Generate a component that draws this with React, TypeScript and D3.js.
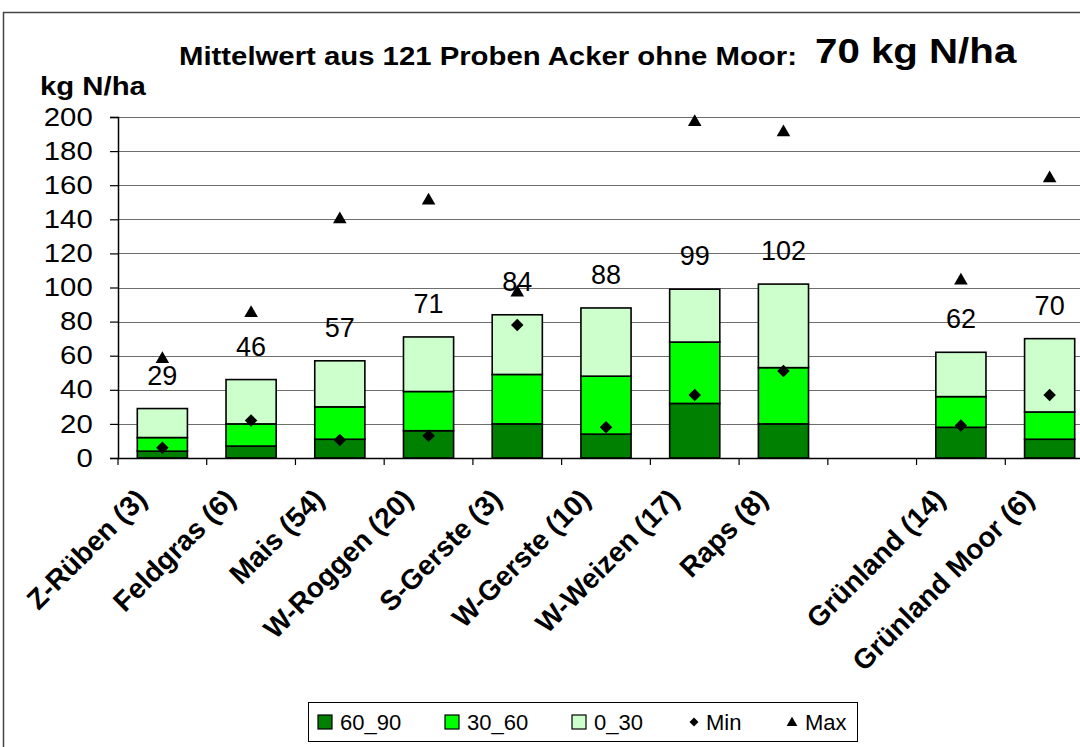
import React, { useEffect, useRef } from 'react';
import * as d3 from 'd3';

// data (kg N/ha)
const categories = ["Z-Rüben (3)", "Feldgras (6)", "Mais (54)", "W-Roggen (20)", "S-Gerste (3)", "W-Gerste (10)", "W-Weizen (17)", "Raps (8)", "", "Grünland (14)", "Grünland Moor (6)"];
const layer60_90 = [4, 7, 11, 16, 20, 14, 32, 20, null, 18, 11];
const layer30_60 = [8, 13, 19, 23, 29, 34, 36, 33, null, 18, 16];
const layer0_30 = [17, 26, 27, 32, 35, 40, 31, 49, null, 26, 43];
const totals = [29, 46, 57, 71, 84, 88, 99, 102, null, 62, 70];
const minValues = [6, 22, 10.5, 13, 78, 18, 37, 51, null, 19, 37];
const maxValues = [58, 85, 140, 151, 97, null, 197, 191, null, 104, 164];
const yTicks = [0, 20, 40, 60, 80, 100, 120, 140, 160, 180, 200];
const seriesNames = ["60_90", "30_60", "0_30"];
const seriesColors = ["#008000", "#00ff00", "#ccffcc"];

const W = 1080, H = 747;
const FONT = "'Liberation Sans', Arial, sans-serif";
// the original picture is a bit wider than tall, text looks stretched
const SX = 1.15;

export default function App() {
  const svgRef = useRef<SVGSVGElement>(null);

  useEffect(() => {
    document.body.style.margin = "0";
    const svg = d3.select(svgRef.current);
    svg.selectAll("*").remove();

    const left = 118, right = 1094, top = 117, bottom = 458;

    const x = d3.scaleBand<number>()
      .domain(categories.map((_, i) => i))
      .range([left, right])
      .padding(0);
    const y = d3.scaleLinear().domain([0, 200]).range([bottom, top]);
    const barW = x.bandwidth() * 0.565;

    // outer chart frame (cut off on the right / bottom like the reference)
    svg.append("rect")
      .attr("x", 3.5).attr("y", 12.5)
      .attr("width", W + 20).attr("height", H + 20)
      .attr("fill", "white").attr("stroke", "#444").attr("stroke-width", 1.5);

    // grid
    svg.append("g")
      .selectAll("line")
      .data(yTicks.slice(1))
      .join("line")
      .attr("x1", left).attr("x2", right)
      .attr("y1", d => Math.round(y(d)) + 0.5).attr("y2", d => Math.round(y(d)) + 0.5)
      .attr("stroke", "#6e6e6e").attr("stroke-width", 1.2);

    // stacked bars
    const rows = categories.map((c, i) => ({
      i, a: layer60_90[i] ?? 0, b: layer30_60[i] ?? 0, c: layer0_30[i] ?? 0,
    })).filter(r => totals[r.i] != null);
    const stack = d3.stack<any>().keys(["a", "b", "c"]);
    const stacked = stack(rows);

    svg.append("g")
      .selectAll("g")
      .data(stacked)
      .join("g")
      .attr("fill", (_, k) => seriesColors[k])
      .selectAll("rect")
      .data(d => d)
      .join("rect")
      .attr("x", d => x(d.data.i)! + (x.bandwidth() - barW) / 2)
      .attr("y", d => y(d[1]))
      .attr("width", barW)
      .attr("height", d => y(d[0]) - y(d[1]))
      .attr("stroke", "black")
      .attr("stroke-width", 1.6);

    // axes
    const yAxis = d3.axisLeft(y).tickValues(yTicks).tickSize(8).tickPadding(14).tickFormat(d3.format("d"));
    const yg = svg.append("g").attr("transform", `translate(${left},0)`).call(yAxis);
    yg.select(".domain").attr("stroke", "black").attr("stroke-width", 1.5);
    yg.selectAll(".tick line").attr("stroke", "black").attr("stroke-width", 1.2);
    yg.selectAll("text")
      .attr("font-family", FONT).attr("font-size", 25.5).attr("fill", "black")
      .attr("transform", `scale(${SX},1)`);

    svg.append("line")
      .attr("x1", left).attr("x2", right)
      .attr("y1", bottom + 0.5).attr("y2", bottom + 0.5)
      .attr("stroke", "black").attr("stroke-width", 1.5);
    svg.append("g")
      .selectAll("line")
      .data(d3.range(categories.length + 1))
      .join("line")
      .attr("x1", i => left + i * x.step()).attr("x2", i => left + i * x.step())
      .attr("y1", bottom).attr("y2", bottom + 7)
      .attr("stroke", "black").attr("stroke-width", 1.2);

    // category labels
    svg.append("g")
      .selectAll("text")
      .data(categories)
      .join("text")
      .attr("transform", (_, i) => `translate(${x(i)! + x.bandwidth() / 2 - 14},${bottom + 43}) rotate(-45)`)
      .attr("text-anchor", "end")
      .attr("font-family", FONT).attr("font-weight", "bold").attr("font-size", 28)
      .text(d => d);

    // total labels
    svg.append("g")
      .selectAll("text")
      .data(rows)
      .join("text")
      .attr("x", r => x(r.i)! + x.bandwidth() / 2)
      .attr("y", r => y(totals[r.i]!) - 24)
      .attr("text-anchor", "middle")
      .attr("font-family", FONT).attr("font-size", 27)
      .text(r => totals[r.i]!);

    // min markers (diamonds)
    const diamond = d3.symbol(d3.symbolSquare, 78);
    svg.append("g")
      .selectAll("path")
      .data(minValues.map((v, i) => ({ v, i })).filter(d => d.v != null))
      .join("path")
      .attr("d", diamond())
      .attr("transform", d => `translate(${x(d.i)! + x.bandwidth() / 2},${y(d.v!)}) rotate(45)`)
      .attr("fill", "black");

    // max markers (triangles)
    const tri = d3.symbol(d3.symbolTriangle, 80);
    svg.append("g")
      .selectAll("path")
      .data(maxValues.map((v, i) => ({ v, i })).filter(d => d.v != null))
      .join("path")
      .attr("d", tri())
      .attr("transform", d => `translate(${x(d.i)! + x.bandwidth() / 2},${y(d.v!)})`)
      .attr("fill", "black");

    // titles
    svg.append("text")
      .attr("transform", `translate(179,65) scale(${SX},1)`)
      .attr("font-family", FONT).attr("font-weight", "bold").attr("font-size", 25.5)
      .text("Mittelwert aus 121 Proben Acker ohne Moor:");
    svg.append("text")
      .attr("transform", `translate(815,63) scale(${SX},1)`)
      .attr("font-family", FONT).attr("font-weight", "bold").attr("font-size", 35)
      .text("70 kg N/ha");

    svg.append("text")
      .attr("transform", `translate(40,95) scale(${SX},1)`)
      .attr("font-family", FONT).attr("font-weight", "bold").attr("font-size", 25.5)
      .text("kg N/ha");

    // legend
    const lg = svg.append("g").attr("transform", "translate(308,702)");
    lg.append("rect").attr("x", 0.5).attr("y", 0.5).attr("width", 549).attr("height", 39)
      .attr("fill", "white").attr("stroke", "black").attr("stroke-width", 1);
    const legendX = [10, 137, 264];
    seriesNames.forEach((name, k) => {
      lg.append("rect").attr("x", legendX[k]).attr("y", 13).attr("width", 14).attr("height", 14)
        .attr("fill", seriesColors[k]).attr("stroke", "black").attr("stroke-width", 1.2);
      lg.append("text").attr("x", legendX[k] + 22).attr("y", 28)
        .attr("font-family", FONT).attr("font-size", 22).text(name);
    });
    lg.append("path").attr("d", d3.symbol(d3.symbolSquare, 40)())
      .attr("transform", "translate(386,20) rotate(45)").attr("fill", "black");
    lg.append("text").attr("x", 398).attr("y", 28).attr("font-family", FONT).attr("font-size", 22).text("Min");
    lg.append("path").attr("d", d3.symbol(d3.symbolTriangle, 50)())
      .attr("transform", "translate(484,21)").attr("fill", "black");
    lg.append("text").attr("x", 497).attr("y", 28).attr("font-family", FONT).attr("font-size", 22).text("Max");
  }, []);

  return (
    <svg ref={svgRef} width={W} height={H} style={{ display: "block", background: "white" }} />
  );
}
